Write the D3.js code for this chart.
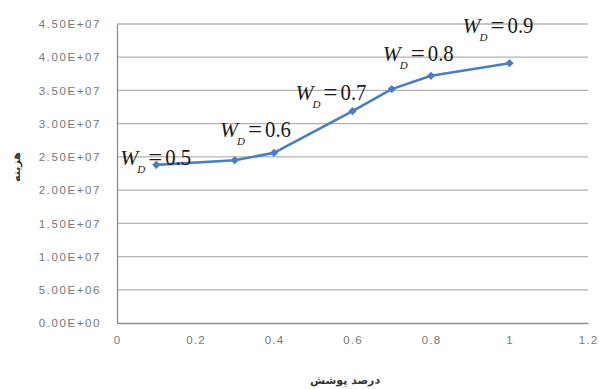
<!DOCTYPE html>
<html>
<head>
<meta charset="utf-8">
<script src="https://cdn.jsdelivr.net/npm/d3@7"></script>
<style>
  html, body { margin: 0; padding: 0; background: #fff; }
  svg { display: block; }
</style>
</head>
<body>
<svg id="chart" width="599" height="389"></svg>
<script>
// Coverage fraction and corresponding cost
const coverage = [0.1, 0.3, 0.4, 0.6, 0.7, 0.8, 1.0];
const cost = [2.38e7, 2.45e7, 2.56e7, 3.19e7, 3.52e7, 3.72e7, 3.91e7];

// W_D annotations and the point each one sits beside
const wdValues = ["0.5", "0.6", "0.7", "0.8", "0.9"];
const wdPoint = [0, 2, 3, 4, 6];

const xTicks = [0, 0.2, 0.4, 0.6, 0.8, 1, 1.2];
const yTicks = [0, 5e6, 1e7, 1.5e7, 2e7, 2.5e7, 3e7, 3.5e7, 4e7, 4.5e7];

const xTitle = "درصد پوشش";
const yTitle = "هزینه";

const margin = { left: 117, right: 11, top: 24, bottom: 66 };
const W = 599, H = 389;
const svg = d3.select("#chart");

const x = d3.scaleLinear().domain([0, 1.2]).range([margin.left, W - margin.right]);
const y = d3.scaleLinear().domain([0, 4.5e7]).range([H - margin.bottom, margin.top]);

const fmtE = v => {
  const [m, e] = v.toExponential(2).toUpperCase().split("E");
  const sign = e[0] === "-" ? "-" : "+";
  const ex = Math.abs(+e).toString().padStart(2, "0");
  return m + "E" + sign + ex;
};

const labelFont = "'Liberation Sans', Arial, sans-serif";

// horizontal gridlines
svg.append("g")
  .selectAll("line")
  .data(yTicks.filter(d => d > 0))
  .join("line")
  .attr("x1", x(0)).attr("x2", x(1.2))
  .attr("y1", d => y(d)).attr("y2", d => y(d))
  .attr("stroke", "#b3b3b3").attr("stroke-width", 1.3);

// y axis
const yAxis = svg.append("g")
  .attr("transform", `translate(${x(0)},0)`)
  .call(d3.axisLeft(y).tickValues(yTicks).tickFormat(fmtE).tickSize(0).tickPadding(16));
yAxis.select(".domain").attr("stroke", "#8c8c8c").attr("stroke-width", 1.3);
yAxis.selectAll("text")
  .attr("fill", "#777")
  .style("font-family", labelFont)
  .style("font-size", "11.5px")
  .style("letter-spacing", "1.6px");

// x axis
const xAxis = svg.append("g")
  .attr("transform", `translate(0,${y(0)})`)
  .call(d3.axisBottom(x).tickValues(xTicks).tickFormat(d => d3.format("")(d)).tickSize(0).tickPadding(13));
xAxis.select(".domain").attr("stroke", "#8c8c8c").attr("stroke-width", 1.3);
xAxis.selectAll("text")
  .attr("fill", "#777")
  .style("font-family", labelFont)
  .style("font-size", "11.5px")
  .style("letter-spacing", "1.2px");

// series line
const line = d3.line().x((d, i) => x(coverage[i])).y(d => y(d));
svg.append("path")
  .datum(cost)
  .attr("d", line)
  .attr("fill", "none")
  .attr("stroke", "#4a7ebf")
  .attr("stroke-width", 2.6)
  .attr("stroke-linejoin", "round");

// diamond markers (squares turned 45 degrees)
svg.append("g")
  .selectAll("path")
  .data(cost)
  .join("path")
  .attr("d", d3.symbol(d3.symbolSquare, 34))
  .attr("transform", (d, i) => `translate(${x(coverage[i])},${y(d)}) rotate(45)`)
  .attr("fill", "#4a7ebf");

// W_D = value annotations
const wdOffset = [[-36, 0], [-54, -16], [-57, -11], [-9, -28], [-47, -30]];
const serif = "'Liberation Serif', 'Times New Roman', serif";
wdValues.forEach((v, k) => {
  const i = wdPoint[k];
  const px = x(coverage[i]) + wdOffset[k][0];
  const py = y(cost[i]) + wdOffset[k][1];
  const g = svg.append("g").attr("fill", "#1a1a1a")
    .style("font-family", serif);
  g.append("text").attr("x", px).attr("y", py)
    .attr("textLength", 18).attr("lengthAdjust", "spacingAndGlyphs")
    .style("font-size", "22px").style("font-style", "italic").text("W");
  g.append("text").attr("x", px + 17).attr("y", py + 8)
    .style("font-size", "11px").style("font-style", "italic").text("D");
  g.append("text").attr("x", px + 28).attr("y", py)
    .attr("textLength", 14).attr("lengthAdjust", "spacingAndGlyphs")
    .style("font-size", "23px").text("=");
  g.append("text").attr("x", px + 45).attr("y", py)
    .attr("textLength", 26).attr("lengthAdjust", "spacingAndGlyphs")
    .style("font-size", "24px").text(v);
});

// axis titles
svg.append("text")
  .attr("x", 345)
  .attr("y", 384)
  .attr("text-anchor", "middle")
  .attr("fill", "#333")
  .style("font-family", "'DejaVu Sans', sans-serif")
  .style("font-size", "11px")
  .style("font-weight", "bold")
  .text(xTitle);

svg.append("text")
  .attr("transform", `translate(20,167) rotate(-90)`)
  .attr("text-anchor", "middle")
  .attr("fill", "#333")
  .style("font-family", "'DejaVu Sans', sans-serif")
  .style("font-size", "11px")
  .style("font-weight", "bold")
  .text(yTitle);
</script>
</body>
</html>
